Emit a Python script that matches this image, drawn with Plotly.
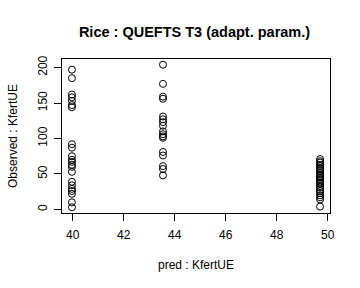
import plotly.graph_objects as go

# cluster x positions (pred : KfertUE)
pred_levels = [39.97, 43.54, 49.70]

obs_a = [197, 185, 162, 158, 153, 147, 144,
         92, 87, 75, 70, 67, 63, 60, 53,
         39, 34, 29, 26, 22, 10, 3]
obs_b = [204, 177, 159, 156, 131, 127, 123, 118, 110, 106, 103, 101,
         81, 76, 61, 57, 48]
obs_c = [71, 68, 66, 63, 61, 58, 56, 54, 51, 49, 47, 45, 43, 41, 38,
         36, 33, 31, 28, 26, 23, 20, 17, 14, 4]

x_vals = ([pred_levels[0]] * len(obs_a) + [pred_levels[1]] * len(obs_b)
          + [pred_levels[2]] * len(obs_c))
y_vals = obs_a + obs_b + obs_c

x_ticks = [40, 42, 44, 46, 48, 50]
y_ticks = [0, 50, 100, 150, 200]

FONT = "Liberation Sans, Arial, Helvetica, sans-serif"

fig = go.Figure()
fig.add_trace(go.Scatter(
    x=x_vals, y=y_vals, mode="markers",
    marker=dict(symbol="circle-open", size=7, color="black",
                line=dict(width=1, color="black")),
    showlegend=False, hoverinfo="x+y",
))

xmin, xmax = min(x_vals), max(x_vals)
ymin, ymax = min(y_vals), max(y_vals)
xr = [xmin - 0.04 * (xmax - xmin), xmax + 0.04 * (xmax - xmin)]
yr = [ymin - 0.04 * (ymax - ymin), ymax + 0.04 * (ymax - ymin)]

fig.update_layout(
    width=360, height=288,
    margin=dict(l=59, r=30, t=59, b=75),
    paper_bgcolor="white", plot_bgcolor="white",
    font=dict(family=FONT, size=12, color="black"),
    title=dict(text="<b>Rice : QUEFTS T3 (adapt. param.)</b>",
               x=((59 + 330) / 2) / 360, xanchor="center", xref="container",
               y=1 - 32 / 288, yanchor="middle", yref="container",
               font=dict(size=14.5, family=FONT, color="black")),
)

fig.update_xaxes(
    range=xr, tickvals=x_ticks, ticktext=[str(v) for v in x_ticks],
    showgrid=False, zeroline=False,
    showline=True, linecolor="black", linewidth=1, mirror=True,
    ticks="outside", ticklen=7, tickcolor="black", tickwidth=1,
    ticklabelstandoff=4,
    title=dict(text="pred : KfertUE", standoff=19, font=dict(size=12)),
)
fig.update_yaxes(
    range=yr, tickvals=y_ticks, ticktext=[str(v) for v in y_ticks],
    tickangle=-90,
    showgrid=False, zeroline=False,
    showline=True, linecolor="black", linewidth=1, mirror=True,
    ticks="outside", ticklen=7, tickcolor="black", tickwidth=1,
    ticklabelstandoff=2,
    title=dict(text="Observed : KfertUE", standoff=16, font=dict(size=12)),
)

fig.write_html("out.html")
